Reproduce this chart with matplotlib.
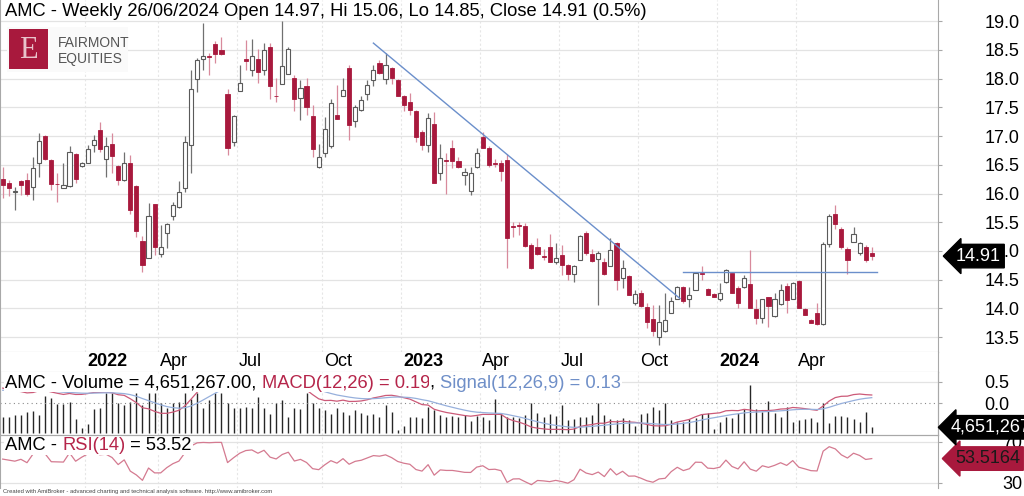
import numpy as np
import pandas as pd
import matplotlib
matplotlib.use("Agg")
import matplotlib.pyplot as plt
import matplotlib.transforms as mtransforms
from matplotlib.patches import Rectangle

plt.rcParams['font.family'] = ['Liberation Sans', 'DejaVu Sans']

# ---------------- data (weekly OHLC) ----------------
last_week = "2024-06-28"
opens = [16.26, 16.18, 16.02, 16.21, 16.24, 16.11, 16.54, 17.00, 16.58, 16.17,
         16.10, 16.13, 16.69, 16.48, 16.54, 16.85, 17.10, 16.60, 16.86, 16.48,
         16.24, 16.53, 16.13, 15.18, 14.87, 15.81, 14.95, 15.31, 15.60, 15.76,
         16.09, 16.85, 17.99, 18.35, 18.40, 18.60, 18.50, 17.73, 16.90, 17.79,
         18.35, 18.16, 18.35, 18.15, 18.55, 17.70, 17.91, 18.09, 18.01, 17.67,
         17.87, 17.35, 16.46, 16.71, 16.82, 17.37, 17.69, 18.18, 17.27, 17.45,
         17.73, 17.98, 18.28, 17.99, 18.18, 17.98, 17.70, 17.60, 17.44, 17.08,
         16.84, 17.21, 16.35, 16.58, 16.79, 16.57, 16.33, 16.05, 16.47, 16.98,
         16.80, 16.53, 16.54, 16.58, 15.43, 15.45, 15.43, 15.10, 15.07, 14.91,
         15.06, 14.81, 14.93, 14.76, 14.60, 14.85, 15.32, 14.95, 14.86, 14.81,
         14.73, 15.13, 14.52, 14.56, 14.10, 14.27, 14.03, 13.81, 13.50, 13.61,
         13.92, 14.16, 14.38, 14.17, 14.32, 14.62, 14.33, 14.25, 14.17, 14.45,
         14.61, 14.36, 14.38, 14.42, 13.98, 13.83, 14.19, 13.87, 14.07, 14.39,
         14.17, 14.48, 13.98, 13.80, 13.92, 13.73, 15.12, 15.65, 15.39, 15.04,
         15.16, 14.97, 15.06, 14.97]
highs = [16.47, 16.24, 16.12, 16.23, 16.35, 16.64, 17.05, 17.02, 16.60, 16.35,
         16.53, 16.83, 16.71, 16.55, 16.85, 17.02, 17.25, 16.99, 17.06, 16.50,
         16.72, 16.67, 16.15, 15.26, 15.84, 15.82, 15.45, 15.49, 15.86, 16.21,
         17.00, 18.15, 18.36, 18.97, 18.44, 18.65, 18.72, 17.82, 17.37, 18.24,
         18.67, 18.70, 18.51, 18.63, 18.63, 18.02, 19.00, 18.56, 18.07, 17.98,
         18.02, 17.54, 16.87, 17.34, 17.65, 17.89, 18.01, 18.24, 17.54, 17.69,
         17.98, 18.24, 18.33, 18.44, 18.20, 17.99, 17.72, 17.75, 17.45, 17.11,
         17.40, 17.42, 16.87, 16.70, 16.94, 16.64, 16.44, 16.47, 16.79, 17.08,
         16.82, 16.60, 16.58, 16.68, 15.51, 15.51, 15.48, 15.13, 15.22, 15.04,
         15.30, 15.13, 15.10, 14.78, 14.75, 15.28, 15.34, 15.04, 14.99, 14.87,
         15.22, 15.16, 14.84, 14.58, 14.32, 14.32, 14.09, 14.06, 14.06, 14.26,
         14.20, 14.39, 14.39, 14.38, 14.64, 14.74, 14.35, 14.26, 14.44, 14.68,
         14.62, 14.39, 14.58, 15.02, 14.16, 14.17, 14.20, 14.26, 14.42, 14.44,
         14.46, 14.49, 14.00, 13.82, 14.09, 15.16, 15.65, 15.80, 15.42, 15.07,
         15.42, 15.16, 15.10, 15.06]
lows = [15.92, 15.95, 15.71, 15.97, 15.95, 15.89, 16.29, 16.58, 16.06, 15.86,
        16.09, 16.12, 16.19, 16.46, 16.53, 16.73, 16.73, 16.29, 16.35, 16.15,
        16.21, 15.65, 15.24, 14.64, 14.87, 14.93, 14.90, 15.05, 15.53, 15.74,
        16.02, 16.35, 17.76, 18.15, 18.07, 18.27, 18.41, 16.67, 16.82, 17.79,
        18.15, 18.05, 17.92, 18.07, 17.64, 17.60, 17.90, 18.08, 17.43, 17.28,
        17.37, 16.64, 16.44, 16.64, 16.79, 17.30, 17.69, 16.93, 17.16, 17.43,
        17.63, 17.87, 18.08, 17.90, 17.90, 17.69, 17.43, 17.37, 16.90, 16.76,
        16.73, 16.18, 16.23, 15.99, 16.44, 16.44, 16.15, 15.97, 16.44, 16.79,
        16.47, 16.47, 16.21, 14.70, 15.25, 15.28, 15.07, 14.69, 14.93, 14.84,
        14.81, 14.78, 14.58, 14.50, 14.45, 14.85, 14.93, 14.81, 14.06, 14.58,
        14.73, 14.32, 14.35, 14.23, 14.06, 14.03, 13.65, 13.51, 13.36, 13.59,
        13.92, 14.16, 14.09, 14.03, 14.32, 14.49, 14.23, 14.19, 14.13, 14.44,
        14.27, 14.00, 14.35, 14.00, 13.73, 13.74, 13.67, 13.85, 14.06, 13.91,
        14.17, 14.00, 13.88, 13.74, 13.71, 13.71, 15.07, 15.39, 15.04, 14.60,
        15.16, 14.93, 14.81, 14.85]
closes = [16.15, 16.10, 16.05, 16.14, 15.99, 16.44, 16.92, 16.60, 16.17, 16.16,
          16.15, 16.73, 16.25, 16.53, 16.78, 16.93, 16.78, 16.82, 16.65, 16.24,
          16.53, 15.71, 15.35, 14.75, 15.61, 15.07, 15.07, 15.47, 15.80, 16.03,
          16.90, 17.82, 18.33, 18.40, 18.38, 18.43, 18.43, 16.79, 17.35, 17.93,
          18.31, 18.40, 18.11, 18.50, 17.87, 17.69, 18.22, 18.51, 17.64, 17.83,
          17.50, 16.77, 16.64, 17.12, 17.57, 17.30, 17.80, 17.19, 17.51, 17.63,
          17.89, 18.15, 18.10, 18.24, 18.02, 17.70, 17.55, 17.46, 16.99, 16.84,
          17.31, 16.19, 16.62, 16.56, 16.56, 16.47, 16.37, 16.36, 16.70, 16.79,
          16.49, 16.51, 16.40, 15.22, 15.42, 15.43, 15.08, 14.71, 14.94, 14.89,
          14.81, 14.87, 14.75, 14.59, 14.74, 15.26, 14.96, 14.83, 14.96, 14.59,
          15.02, 14.49, 14.70, 14.24, 14.25, 14.04, 13.77, 13.61, 13.77, 13.80,
          14.13, 14.37, 14.13, 14.23, 14.61, 14.60, 14.23, 14.20, 14.27, 14.66,
          14.27, 14.10, 14.52, 14.00, 13.83, 14.16, 14.04, 14.16, 14.32, 14.15,
          14.44, 14.00, 13.88, 13.75, 13.73, 15.12, 15.61, 15.47, 15.07, 14.84,
          15.29, 15.13, 14.84, 14.91]
volume_m = [12.4, 12.4, 13.9, 14.2, 16.8, 17.5, 14.2, 28.9, 27.1, 22.7,
            22.7, 24.5, 10.8, 3.9, 7.2, 18.6, 19.4, 31.0, 31.0, 23.2,
            21.9, 24.5, 31.0, 21.9, 31.0, 31.0, 23.7, 19.4, 23.7, 24.5,
            31.0, 26.3, 31.0, 19.4, 25.8, 31.0, 31.0, 23.7, 19.4, 19.4,
            20.6, 19.4, 27.9, 19.4, 15.0, 23.2, 25.8, 12.9, 19.4, 18.6,
            31.0, 23.2, 19.4, 18.1, 15.0, 19.4, 16.8, 14.2, 18.1, 16.0,
            14.2, 15.0, 12.4, 21.9, 16.8, 2.6, 5.7, 12.4, 12.9, 11.6,
            20.6, 18.1, 14.2, 12.9, 13.4, 12.4, 14.2, 9.8, 13.4, 12.4,
            10.3, 26.3, 15.5, 12.9, 12.9, 11.6, 14.2, 23.7, 15.5, 12.4,
            15.0, 13.4, 21.9, 10.3, 10.8, 12.4, 12.4, 14.2, 23.7, 14.2,
            10.8, 10.3, 11.6, 10.3, 5.7, 15.0, 16.0, 20.6, 18.1, 23.2,
            10.3, 9.0, 9.0, 10.8, 11.6, 15.0, 16.0, 3.1, 9.0, 12.4,
            11.6, 15.5, 18.6, 37.4, 18.6, 16.8, 25.3, 16.0, 12.9, 20.6,
            9.0, 10.3, 10.8, 11.6, 9.0, 23.2, 7.7, 13.4, 13.4, 12.4,
            10.8, 9.0, 16.8, 4.651267]
last_volume = 4651267
# indicator state at the first visible bar
macd_start = 0.35
signal_start = 0.30
rsi_start = 53.0
# indicator values printed on the chart
macd_last = 0.19
signal_last = 0.13
rsi_last = 53.5164
# hand-drawn lines on the chart (bar index, price)
trend_x = [61.0, 111.45]
trend_y = [18.62, 14.17]
support_x = [112.0, 143.9]
support_y = [14.64, 14.64]
price_ticks = [13.5, 14.0, 14.5, 15.0, 15.5, 16.0, 16.5, 17.0, 17.5, 18.0, 18.5, 19.0]
macd_ticks = [0.0, 0.5]
rsi_ticks = [30, 70]

title_txt = "AMC - Weekly 26/06/2024 Open 14.97, Hi 15.06, Lo 14.85, Close 14.91 (0.5%)"

# ---------------- derived indicators ----------------
o = np.array(opens); h = np.array(highs); l = np.array(lows); c = np.array(closes)
v = np.array(volume_m)
n = len(c)
x = np.arange(n)
dates = pd.date_range(end=last_week, periods=n, freq="W-FRI")


def ema(vals, span, first):
    a = 2.0 / (span + 1)
    out = np.empty(len(vals))
    out[0] = first
    for i in range(1, len(vals)):
        out[i] = out[i - 1] + a * (vals[i] - out[i - 1])
    return out


ema12 = ema(c, 12, c[0])
ema26 = ema(c, 26, c[0] - macd_start)
macd = ema12 - ema26
signal = ema(macd, 9, signal_start)

g0 = 0.2 * rsi_start / 100.0
l0 = 0.2 - g0
ag, al = np.empty(n), np.empty(n)
ag[0], al[0] = g0, l0
for i in range(1, n):
    d = c[i] - c[i - 1]
    ag[i] = ag[i - 1] + (max(d, 0) - ag[i - 1]) / 14.0
    al[i] = al[i - 1] + (max(-d, 0) - al[i - 1]) / 14.0
rsi = 100 - 100 / (1 + ag / al)

# ---------------- figure ----------------
W, H = 1024, 496
fig = plt.figure(figsize=(W / 100, H / 100), dpi=100, facecolor='white')


def rect(x0, y0, x1, y1):
    return [x0 / W, 1 - y1 / H, (x1 - x0) / W, (y1 - y0) / H]


CRIM = '#a8193d'
WICK_R = '#d88a9c'
GRID = '#e3e3e3'
VGRID = '#e6e6e6'
SPINE = '#a8a8a8'
BLUE = '#6b8fcb'
FS = 13.2
TFS = 13

XL = (-0.44, 153.9)

ax_p = fig.add_axes(rect(0, 0, 938, 352))
ax_d = fig.add_axes(rect(0, 352, 938, 372))
ax_r = fig.add_axes(rect(0, 435, 938, 488))
ax_v = fig.add_axes(rect(0, 372, 938, 435))
ax_m = ax_v.twinx()
ax_r.set_zorder(0)
ax_v.set_zorder(1)
ax_m.set_zorder(2)

# quarter ticks
qt_idx, qt_lab = [], []
for i in range(1, n):
    if dates[i].month != dates[i - 1].month and dates[i].month in (1, 4, 7, 10):
        qt_idx.append(i)
        qt_lab.append(str(dates[i].year) if dates[i].month == 1 else dates[i].strftime('%b'))

for ax in (ax_p, ax_d, ax_v, ax_m, ax_r):
    ax.set_xlim(*XL)
    ax.set_xticks([])
    for s in ax.spines.values():
        s.set_color(SPINE)
        s.set_linewidth(0.8)
    ax.spines['top'].set_visible(False)

for ax in (ax_p, ax_v, ax_r):
    for qi in qt_idx:
        ax.axvline(qi - 0.45, color=VGRID, lw=0.8, ls=(0, (2, 2)), zorder=0)

TICKKW = dict(axis='y', direction='out', length=3, color=SPINE, labelsize=TFS)

# price panel
ax_p.set_ylim(13.239, 19.371)
ax_p.yaxis.tick_right()
ax_p.set_yticks(price_ticks)
ax_p.set_yticklabels([f"{t:.1f}" for t in price_ticks])
ax_p.tick_params(pad=30.5, **TICKKW)
for t in price_ticks:
    ax_p.axhline(t, color=GRID, lw=0.9, zorder=0)

up = c >= o
dn = ~up
ax_p.vlines(x[up], l[up], h[up], color='#707070', lw=0.9, zorder=2)
ax_p.vlines(x[dn], l[dn], h[dn], color=WICK_R, lw=0.9, zorder=2)
ax_p.bar(x[up], np.maximum(c[up] - o[up], 0.012), bottom=o[up], width=0.68,
         color='white', edgecolor='#5a5a5a', linewidth=0.8, zorder=3)
ax_p.bar(x[dn], np.maximum(o[dn] - c[dn], 0.012), bottom=c[dn], width=0.68,
         color=CRIM, edgecolor=CRIM, linewidth=0.6, zorder=3)
ax_p.plot(trend_x, trend_y, color=BLUE, lw=1.0, zorder=4)
ax_p.plot(support_x, support_y, color=BLUE, lw=1.0, zorder=4)

blend_p = mtransforms.blended_transform_factory(ax_p.transAxes, ax_p.transData)
ax_p.text(956 / 938, c[-1], f"{c[-1]:.2f}", transform=blend_p, color='white', fontsize=TFS,
          va='center', ha='left', clip_on=False, zorder=10,
          bbox=dict(boxstyle='larrow,pad=0.18', fc='black', ec='black'))

# date strip
ax_d.set_ylim(0, 1)
ax_d.set_yticks([])
for qi, lab in zip(qt_idx, qt_lab):
    ax_d.text(qi - 0.45 + 0.35, 0.5, lab, fontsize=TFS, va='center', ha='left',
              fontweight='bold' if lab.isdigit() else 'normal')

# volume + MACD panel
ax_v.set_ylim(-1.3, 47.5)
ax_v.set_yticks([])
ax_v.vlines(x, 0, v, color='#262626', lw=1.0, zorder=2)
ax_m.set_ylim(-0.751, 0.728)
ax_m.set_yticks(macd_ticks)
ax_m.set_yticklabels([f"{t:.1f}" for t in macd_ticks])
ax_m.tick_params(pad=30.5, **TICKKW)
ax_m.spines['top'].set_visible(False)
ax_m.axhline(0, color='#8a8a8a', lw=0.8, ls=(0, (1, 3)), zorder=1)
ax_m.axhline(0.5, color=GRID, lw=0.9, zorder=0)
ax_m.plot(x, macd, color='#cc5a78', lw=0.9, zorder=3)
ax_m.plot(x, signal, color='#97b0dc', lw=0.9, zorder=3)
blend_v = mtransforms.blended_transform_factory(ax_m.transAxes, ax_v.transData)
ax_m.text(951 / 938, v[-1], f"{last_volume:,}", transform=blend_v, color='white', fontsize=TFS,
          va='center', ha='left', clip_on=False, zorder=10,
          bbox=dict(boxstyle='larrow,pad=0.18', fc='black', ec='black'))

# RSI panel
ax_r.set_ylim(24.8, 76.5)
ax_r.yaxis.tick_right()
ax_r.set_yticks(rsi_ticks)
ax_r.set_yticklabels([str(t) for t in rsi_ticks])
ax_r.tick_params(pad=43.5, **TICKKW)
ax_r.spines['bottom'].set_visible(False)
for t in rsi_ticks:
    ax_r.axhline(t, color=GRID, lw=0.9, zorder=0)
ax_r.plot(x, rsi, color='#d47a90', lw=0.9, zorder=3)
blend_r = mtransforms.blended_transform_factory(ax_r.transAxes, ax_r.transData)
ax_r.text(955 / 938, rsi_last, f"{rsi_last:.4f}", transform=blend_r, color='#1a1a1a',
          fontsize=TFS, va='center', ha='left', clip_on=False, zorder=10,
          bbox=dict(boxstyle='larrow,pad=0.18', fc=CRIM, ec=CRIM))


# titles
def ftext(px, py, s, **kw):
    return fig.text(px / W, 1 - py / H, s, **kw)


ftext(5, 12, title_txt, fontsize=FS, va='center', ha='left')

wbg = dict(boxstyle='square,pad=0.05', fc='white', ec='none')


def after(t, s, color):
    fig.canvas.draw()
    bb = t.get_window_extent()
    return fig.text(bb.x1 / W, t.get_position()[1], s, fontsize=FS, va='center', ha='left',
                    color=color, bbox=wbg, zorder=20)


t1 = ftext(5, 383, "AMC - Volume = 4,651,267.00, ", fontsize=FS, va='center', ha='left',
           bbox=wbg, zorder=20)
t2 = after(t1, f"MACD(12,26) = {macd_last:.2f}", '#b5254a')
t3 = after(t2, ", ", 'black')
t4 = after(t3, f"Signal(12,26,9) = {signal_last:.2f}", '#6f8fc8')

r1 = ftext(5, 446, "AMC - ", fontsize=FS, va='center', ha='left', bbox=wbg, zorder=20)
r2 = after(r1, "RSI(14)", '#b5254a')
r3 = after(r2, f" = {rsi_last:.2f}", 'black')

ftext(3, 492, "Created with AmiBroker - advanced charting and technical analysis software. http://www.amibroker.com",
      fontsize=4.2, color='#444444', va='center', ha='left')

# logo
fig.add_artist(Rectangle((7 / W, 1 - 72 / H), 121 / W, 45 / H, transform=fig.transFigure,
                         fc='#fafafa', ec='none', zorder=5))
fig.add_artist(Rectangle((9 / W, 1 - 69 / H), 39 / W, 40 / H, transform=fig.transFigure,
                         fc=CRIM, ec='none', zorder=6))
ftext(28.5, 50, "E", fontsize=22, color='#e9c3cb', va='center', ha='center',
      family=['Liberation Serif', 'DejaVu Serif'], zorder=7)
ftext(58, 43, "FAIRMONT", fontsize=10, color='#555555', va='center', ha='left', zorder=7)
ftext(58, 59, "EQUITIES", fontsize=10, color='#555555', va='center', ha='left', zorder=7)

fig.savefig("out.png", dpi=100, facecolor='white')
